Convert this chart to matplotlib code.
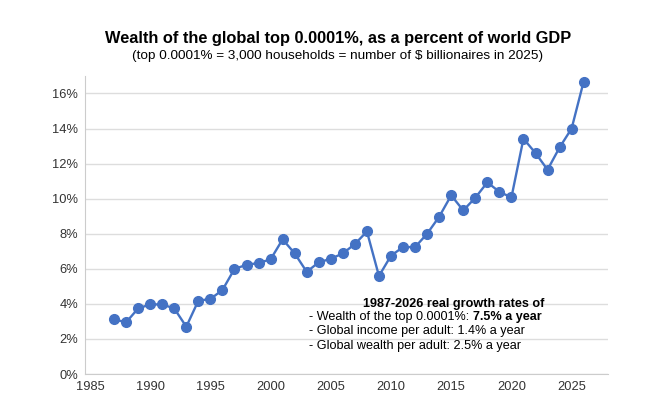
import matplotlib.pyplot as plt
from matplotlib.ticker import FuncFormatter

plt.rcParams['font.family'] = ['Liberation Sans', 'DejaVu Sans']

years = list(range(1987, 2027))
share = [3.12, 2.95, 3.74, 3.97, 3.97, 3.74, 2.70, 4.18, 4.28, 4.79,
         5.99, 6.23, 6.33, 6.54, 7.68, 6.88, 5.83, 6.37, 6.57, 6.88,
         7.41, 8.13, 5.59, 6.75, 7.24, 7.24, 8.00, 8.97, 10.19, 9.33,
         10.05, 10.93, 10.39, 10.07, 13.42, 12.60, 11.65, 12.92, 14.00, 16.68]

x_ticks = [1985, 1990, 1995, 2000, 2005, 2010, 2015, 2020, 2025]
y_ticks = [0, 2, 4, 6, 8, 10, 12, 14, 16]

title = 'Wealth of the global top 0.0001%, as a percent of world GDP'
subtitle = '(top 0.0001% = 3,000 households = number of $ billionaires in 2025)'
note_head = '1987-2026 real growth rates of'
note_lines = ['- Wealth of the top 0.0001%: ',
              '- Global income per adult: 1.4% a year',
              '- Global wealth per adult: 2.5% a year']
note_bold = '7.5% a year'

blue = '#4472c4'

fig = plt.figure(figsize=(6.5, 4.17), dpi=100)
ax = fig.add_axes([0.131, 0.103, 0.804, 0.715])

ax.plot(years, share, color=blue, linewidth=1.7, marker='o',
        markersize=7, zorder=3)

ax.set_xlim(1984.6, 2028)
ax.set_ylim(0, 17)
ax.set_xticks(x_ticks)
ax.set_yticks(y_ticks)
ax.yaxis.set_major_formatter(FuncFormatter(lambda v, p: '%d%%' % v))
ax.tick_params(axis='both', length=0, labelsize=9.3, colors='#333333', pad=5)

ax.grid(axis='y', color='#dddddd', linewidth=1)
ax.set_axisbelow(True)
for side in ['top', 'right']:
    ax.spines[side].set_visible(False)
ax.spines['left'].set_color('#cccccc')
ax.spines['bottom'].set_color('#cccccc')

fig.text(0.52, 0.908, title, ha='center', va='center', fontsize=11.8,
         fontweight='bold')
fig.text(0.52, 0.866, subtitle, ha='center', va='center', fontsize=9.7)

# Growth-rate note
ax.text(0.706, 0.235, note_head, transform=ax.transAxes, ha='center',
        va='center', fontsize=9.1, fontweight='bold')
line_y = [0.19, 0.143, 0.094]
t1 = ax.text(0.428, line_y[0], note_lines[0], transform=ax.transAxes,
             ha='left', va='center', fontsize=9.1)
ax.annotate(note_bold, xy=(1, 0.5), xycoords=t1, ha='left', va='center',
            fontsize=9.1, fontweight='bold')
for txt, y in zip(note_lines[1:], line_y[1:]):
    ax.text(0.428, y, txt, transform=ax.transAxes, ha='left', va='center',
            fontsize=9.1)

fig.savefig('out.png', dpi=100)
